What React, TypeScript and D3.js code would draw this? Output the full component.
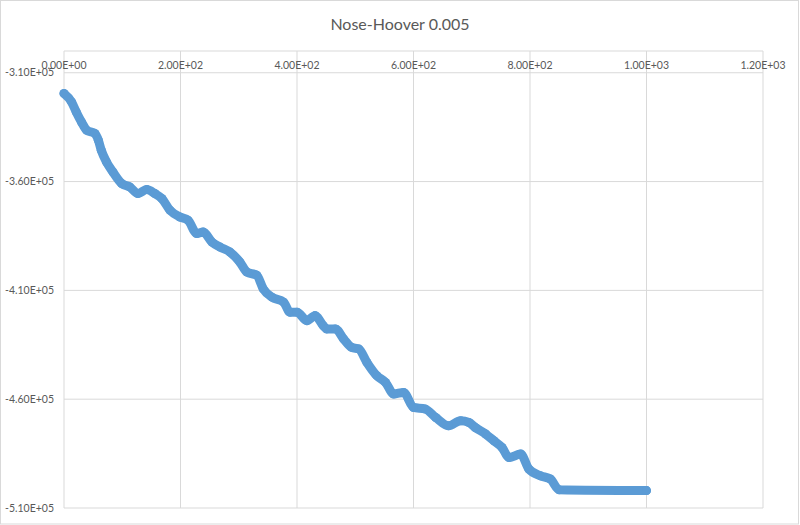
import * as d3 from "d3";

// time step vs. energy
const stepValues = [
  0, 13, 21, 30, 39, 53, 59, 64, 73, 84, 99, 113, 127, 142, 156, 168, 182, 199, 213,
  228, 239, 254, 268, 285, 302, 314, 331, 342, 357, 377, 388, 400, 417, 431, 445, 451,
  466, 480, 494, 506, 520, 537, 552, 566, 583, 600, 620, 638, 660, 681, 695, 706, 724,
  738, 752, 764, 784, 798, 818, 835, 850, 1000,
];
const energyValues = [
  -319500, -323400, -328000, -332600, -336400, -337900, -341000, -345600, -351000,
  -355600, -360900, -362500, -365500, -363700, -365500, -367800, -373200, -376300,
  -377800, -383900, -383200, -387800, -390100, -392400, -397000, -401600, -403100,
  -409300, -413100, -415400, -420000, -420000, -423900, -421600, -426200, -427700,
  -427700, -432300, -436200, -436900, -443100, -449200, -452300, -457600, -456900,
  -463800, -464500, -468400, -472200, -469900, -470700, -473000, -476000, -479100,
  -482200, -486800, -485200, -492100, -495200, -496700, -501600, -502000,
];

const xTicks = [0, 200, 400, 600, 800, 1000, 1200];
const yTicks = [-310000, -360000, -410000, -460000, -510000];

const title = "Nose-Hoover 0.005";

const W = 800;
const H = 525;
const margin = { top: 51, right: 37, bottom: 17, left: 64 };

const fmtExp = (v: number) => {
  const s = Math.abs(v).toExponential(2).toUpperCase(); // e.g. 3.10E+5
  const m = s.match(/^([\d.]+)E([+-])(\d+)$/)!;
  const exp = m[3].padStart(2, "0");
  return `${v < 0 ? "-" : ""}${m[1]}E${m[2]}${exp}`;
};

export default function App() {
  const x = d3.scaleLinear().domain([0, 1200]).range([margin.left, W - margin.right]);
  const y = d3.scaleLinear().domain([-510000, -300000]).range([H - margin.bottom, margin.top]);

  const points = stepValues.map((s, i) => [s, energyValues[i]] as [number, number]);
  const line = d3
    .line<[number, number]>()
    .x((d) => x(d[0]))
    .y((d) => y(d[1]))
    .curve(d3.curveMonotoneX);

  const grid = "#d9d9d9";
  const text = "#595959";
  const blue = "#5b9bd5";
  const font = "Lato, 'Open Sans', sans-serif";

  return (
    <svg
      width={W}
      height={H}
      style={{ position: "absolute", left: 0, top: 0, background: "#fff" }}
      fontFamily={font}
    >
      <rect x={0.5} y={0.5} width={W - 2} height={H - 1.5} fill="#fff" stroke={grid} />

      <text x={400} y={30} textAnchor="middle" fontSize={16} fill={text}>
        {title}
      </text>

      {/* grid */}
      {xTicks.map((t) => (
        <line key={"gx" + t} x1={x(t)} x2={x(t)} y1={y(-300000)} y2={y(-510000)} stroke={grid} />
      ))}
      {yTicks.map((t) => (
        <line key={"gy" + t} x1={x(0)} x2={x(1200)} y1={y(t)} y2={y(t)} stroke={grid} />
      ))}
      <line x1={x(0)} x2={x(1200)} y1={y(-300000)} y2={y(-300000)} stroke={grid} />

      {/* axis labels */}
      {xTicks.map((t) => (
        <text key={"tx" + t} x={x(t)} y={69} textAnchor="middle" fontSize={10.5} fill={text}>
          {fmtExp(t)}
        </text>
      ))}
      {yTicks.map((t) => (
        <text key={"ty" + t} x={54} y={y(t) + 3.5} textAnchor="end" fontSize={10.5} fill={text}>
          {fmtExp(t)}
        </text>
      ))}

      {/* series: dense markers */}
      <path
        d={line(points) ?? ""}
        fill="none"
        stroke={blue}
        strokeWidth={9}
        strokeLinecap="round"
        strokeLinejoin="round"
      />
      {points.map((d, i) => (
        <circle key={i} cx={x(d[0])} cy={y(d[1])} r={4.5} fill={blue} />
      ))}
    </svg>
  );
}
